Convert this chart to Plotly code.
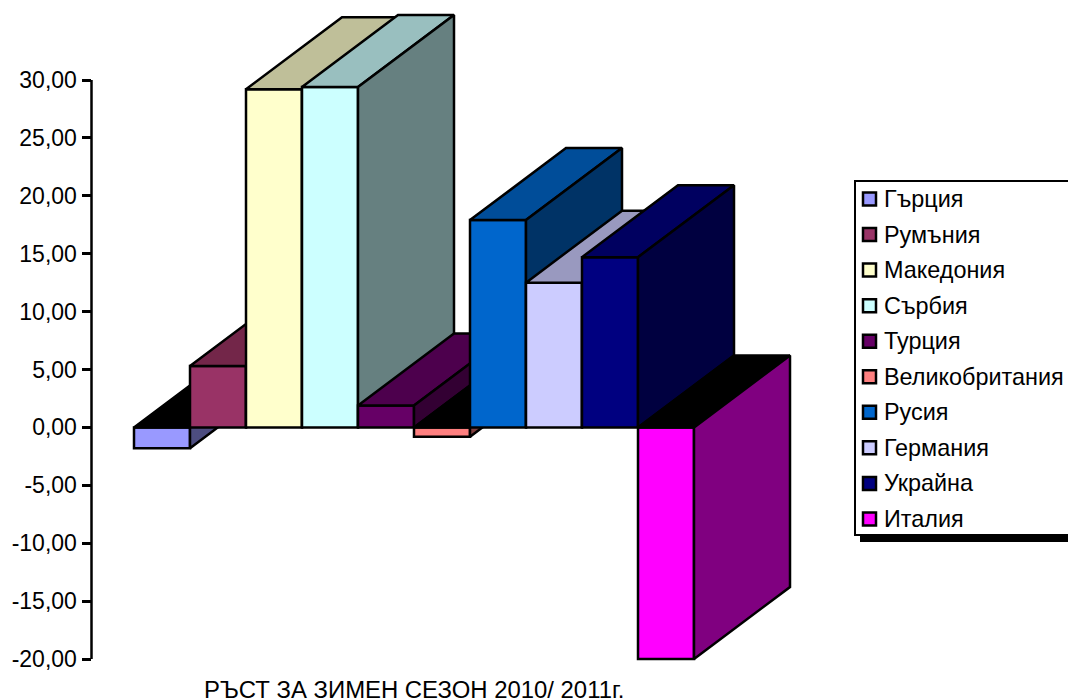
import plotly.graph_objects as go

categories = ["Гърция", "Румъния", "Македония", "Сърбия", "Турция",
              "Великобритания", "Русия", "Германия", "Украйна", "Италия"]
values = [-1.8, 5.3, 29.2, 29.4, 1.9, -0.8, 17.9, 12.5, 14.7, -20.0]
front_colors = ["#9999FF", "#993366", "#FFFFCC", "#CCFFFF", "#660066",
                "#FF8080", "#0066CC", "#CCCCFF", "#000080", "#FF00FF"]
top_colors = ["#000000", "#732649", "#BFBF99", "#99BFBF", "#4D004D",
              "#000000", "#004D99", "#9999BF", "#000060", "#000000"]
side_colors = ["#4D4D80", "#4D1A33", "#808066", "#668080", "#330033",
               "#804040", "#003366", "#666680", "#000040", "#800080"]
tick_values = [30, 25, 20, 15, 10, 5, 0, -5, -10, -15, -20]
tick_labels = ["30,00", "25,00", "20,00", "15,00", "10,00", "5,00", "0,00",
               "-5,00", "-10,00", "-15,00", "-20,00"]
chart_title = "РЪСТ ЗА ЗИМЕН СЕЗОН 2010/ 2011г."

W, H = 1068, 698
PX_PER_UNIT = 579 / 50
PX_PER_CAT = 56
Y0_PX = 80 + 30 * PX_PER_UNIT
X0_PX = 162
AXIS_PX = 91.5
RIGHT_PX = 800
TOP_PX = 5
BOTTOM_PX = 697
DEPTH_X = 96 / PX_PER_CAT
DEPTH_Y = 72 / PX_PER_UNIT
EDGE = 2.5

def fy(p):
    return 1 - p / H

x_range = [(AXIS_PX - X0_PX) / PX_PER_CAT, (RIGHT_PX - X0_PX) / PX_PER_CAT]
y_range = [(Y0_PX - BOTTOM_PX) / PX_PER_UNIT, (Y0_PX - TOP_PX) / PX_PER_UNIT]
x_domain = [AXIS_PX / W, RIGHT_PX / W]
y_domain = [fy(BOTTOM_PX), fy(TOP_PX)]

fig = go.Figure()
layout_axes = {}
for i, (name, v) in enumerate(zip(categories, values)):
    sfx = "" if i == 0 else str(i + 1)
    xa, ya = "x" + sfx, "y" + sfx
    if i > 0:
        layout_axes["xaxis" + sfx] = dict(range=x_range, domain=x_domain, visible=False,
                                          overlaying="x", anchor=ya, fixedrange=True)
        layout_axes["yaxis" + sfx] = dict(range=y_range, domain=y_domain, visible=False,
                                          overlaying="y", anchor=xa, fixedrange=True)
    left, right = i - 0.5, i + 0.5
    top = max(v, 0)
    bottom = min(v, 0)
    # upper face
    fig.add_trace(go.Scatter(
        x=[left, right, right + DEPTH_X, left + DEPTH_X, left],
        y=[top, top, top + DEPTH_Y, top + DEPTH_Y, top],
        mode="lines", fill="toself", fillcolor=top_colors[i],
        line=dict(color="black", width=EDGE), showlegend=False, hoverinfo="skip",
        xaxis=xa, yaxis=ya))
    # right face
    fig.add_trace(go.Scatter(
        x=[right, right + DEPTH_X, right + DEPTH_X, right, right],
        y=[top, top + DEPTH_Y, bottom + DEPTH_Y, bottom, top],
        mode="lines", fill="toself", fillcolor=side_colors[i],
        line=dict(color="black", width=EDGE), showlegend=False, hoverinfo="skip",
        xaxis=xa, yaxis=ya))
    # front face
    fig.add_trace(go.Bar(
        x=[i], y=[v], width=1, name=name, marker=dict(color=front_colors[i],
        line=dict(color="black", width=EDGE)), showlegend=False, xaxis=xa, yaxis=ya))

shapes = [dict(type="line", xref="paper", yref="y", x0=AXIS_PX / W, x1=AXIS_PX / W,
               y0=min(tick_values), y1=max(tick_values),
               line=dict(color="black", width=2.5))]

# legend box, clipped by the right edge of the page as in the original
LEG_L, LEG_T, LEG_B, LEG_R = 855, 181, 535, 1090
def px(x0, y0, x1, y1):
    return dict(xref="paper", yref="paper", x0=x0 / W, x1=x1 / W, y0=fy(y0), y1=fy(y1))
shapes.append(dict(type="rect", fillcolor="black", line=dict(width=0),
                   **px(LEG_L + 5, LEG_T + 6, LEG_R + 6, LEG_B + 7)))
shapes.append(dict(type="rect", fillcolor="white", line=dict(color="black", width=2),
                   **px(LEG_L, LEG_T, LEG_R, LEG_B)))
annotations = []
ROW0, ROW_STEP = 199, 35.55
for i, name in enumerate(categories):
    cy = ROW0 + i * ROW_STEP
    shapes.append(dict(type="rect", fillcolor=front_colors[i],
                       line=dict(color="black", width=2.5),
                       **px(863, cy - 6.5, 876, cy + 6.5)))
    annotations.append(dict(text=name, xref="paper", yref="paper", x=881.5 / W, y=fy(cy),
                            xanchor="left", yanchor="middle", showarrow=False,
                            font=dict(size=23.4, color="black")))
annotations.append(dict(text=chart_title, xref="x", yref="y",
                        x=(414 - X0_PX) / PX_PER_CAT, y=(Y0_PX - 689) / PX_PER_UNIT,
                        xanchor="center", yanchor="middle", showarrow=False,
                        font=dict(size=23.9, color="black")))

fig.update_layout(
    width=W, height=H, autosize=False,
    margin=dict(l=0, r=0, t=0, b=0, pad=0),
    paper_bgcolor="white", plot_bgcolor="rgba(0,0,0,0)",
    font=dict(family="Liberation Sans, Arial, sans-serif", color="black", size=23),
    showlegend=False, barmode="overlay",
    xaxis=dict(range=x_range, domain=x_domain, visible=False, fixedrange=True),
    yaxis=dict(range=y_range, domain=y_domain, tickmode="array", tickvals=tick_values,
               ticktext=tick_labels, ticks="outside", ticklen=9, tickwidth=2.5, tickcolor="black",
               showgrid=False, zeroline=False, showline=False, fixedrange=True,
               tickfont=dict(size=23)),
    shapes=shapes, annotations=annotations,
    **layout_axes,
)
fig.write_html("out.html", config=dict(displayModeBar=False),
               post_script="document.body.style.margin='0';document.documentElement.style.overflow='hidden';")
